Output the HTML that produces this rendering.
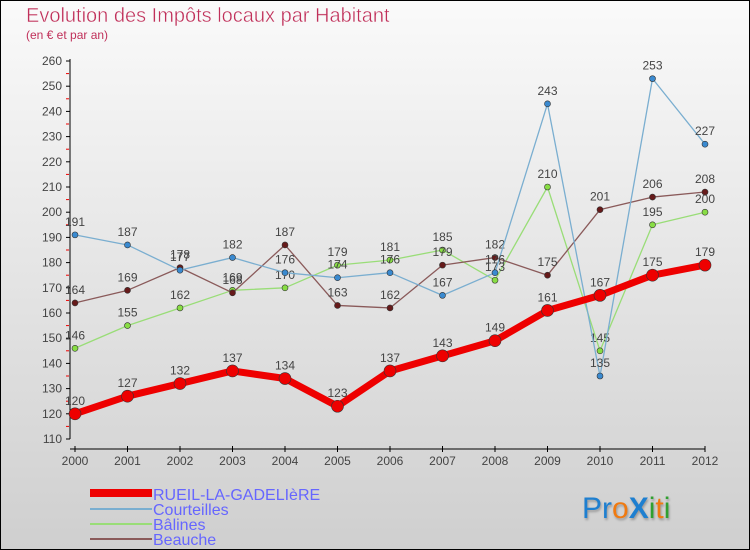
<!DOCTYPE html>
<html><head><meta charset="utf-8"><style>
body{margin:0}
#c{width:750px;height:550px;position:relative;overflow:hidden;box-sizing:border-box;border:1px solid #000;background:linear-gradient(#fafafa,#cfcfcf);font-family:"Liberation Sans",sans-serif}
</style></head><body>
<div id="c">
<svg id="s" width="750" height="550" style="position:absolute;left:-1px;top:-1px">
<text x="26" y="22" font-size="20" fill="#c0305a" stroke="#fafafa" stroke-width="0.4">Evolution des Impôts locaux par Habitant</text>
<text x="26" y="39" font-size="12" fill="#c0305a">(en € et par an)</text>
<g id="axes"></g><g id="series"></g>
<g font-size="16" fill="#6666ff">
<rect x="90" y="489" width="62" height="8" fill="#e00"/>
<text x="153" y="500">RUEIL-LA-GADELIèRE</text>
<rect x="90" y="508" width="62" height="2" fill="#7aaed0"/>
<text x="153" y="515">Courteilles</text>
<rect x="90" y="523" width="62" height="2" fill="#99dd77"/>
<text x="153" y="530">Bâlines</text>
<rect x="90" y="538" width="62" height="2" fill="#8a5a5a"/>
<text x="153" y="545">Beauche</text>
</g>
<text x="582" y="518" font-size="30" style="text-shadow:1px 2px 2px #999"><tspan fill="#1e7fd0">Pr</tspan><tspan fill="#f07a10">o</tspan><tspan fill="#1e7fd0" font-weight="bold">X</tspan><tspan fill="#30a030">i</tspan><tspan fill="#f07a10">t</tspan><tspan fill="#30a030">i</tspan></text>
</svg>
</div>
<script>
const years=[2000,2001,2002,2003,2004,2005,2006,2007,2008,2009,2010,2011,2012];
const rueil=[120,127,132,137,134,123,137,143,149,161,167,175,179];
const courteilles=[191,187,177,182,176,174,176,167,176,243,135,253,227];
const balines=[146,155,162,169,170,179,181,185,173,210,145,195,200];
const beauche=[164,169,178,168,187,163,162,179,182,175,201,206,208];
const yTicks=[110,120,130,140,150,160,170,180,190,200,210,220,230,240,250,260];
const NS="http://www.w3.org/2000/svg";
const X=i=>75+i*52.5, Y=v=>439-(v-110)*2.52;
function mk(t,a,p){const e=document.createElementNS(NS,t);for(const k in a)e.setAttribute(k,a[k]);p.appendChild(e);return e;}
const ax=document.getElementById('axes'), sg=document.getElementById('series');
let l=mk('line',{x1:70,y1:59,x2:70,y2:439,stroke:'#000'},ax);


l=mk('line',{x1:70,y1:449,x2:705,y2:449,stroke:'#000'},ax);


yTicks.forEach(v=>{
 mk('line',{x1:66,y1:Y(v),x2:70,y2:Y(v),stroke:'#000'},ax);
 if(v<260) mk('line',{x1:66,y1:Y(v+5),x2:69,y2:Y(v+5),stroke:'#e00'},ax);
 const t=mk('text',{x:62,y:Y(v)+4,'font-size':12,'text-anchor':'end',fill:'#444'},ax);
 t.textContent=v;
 
 
});
years.forEach((yr,i)=>{
 mk('line',{x1:X(i),y1:446,x2:X(i),y2:452,stroke:'#000'},ax);
 const t=mk('text',{x:X(i),y:465,'font-size':12,'text-anchor':'middle',fill:'#444'},ax);
 t.textContent=yr;
 
 
});
function series(d,name,col,w,r,dot){
 const g=mk('g',{},sg);
 
 
 const p=mk('polyline',{points:d.map((v,i)=>X(i)+','+Y(v)).join(' '),fill:'none',stroke:col,'stroke-width':w,'stroke-linejoin':'round'},g);
 
 
 d.forEach((v,i)=>{
  const c=mk('circle',{cx:X(i),cy:Y(v),r:r,fill:dot,stroke:'#333','stroke-width':0.6},g);
  
  
  const t=mk('text',{x:X(i),y:Y(v)-9,'font-size':12,'text-anchor':'middle',fill:'#444'},g);
  t.textContent=v;
  
  
 });
}
series(balines,'balines','#99dd77',1.3,3,'#88dd44');
series(beauche,'beauche','#8a5a5a',1.3,3,'#661a1a');
series(courteilles,'courteilles','#7aaed0',1.3,3,'#3a8ad0');
series(rueil,'rueil','#ee0000',7,6,'#ee0000');
</script>
</body></html>
